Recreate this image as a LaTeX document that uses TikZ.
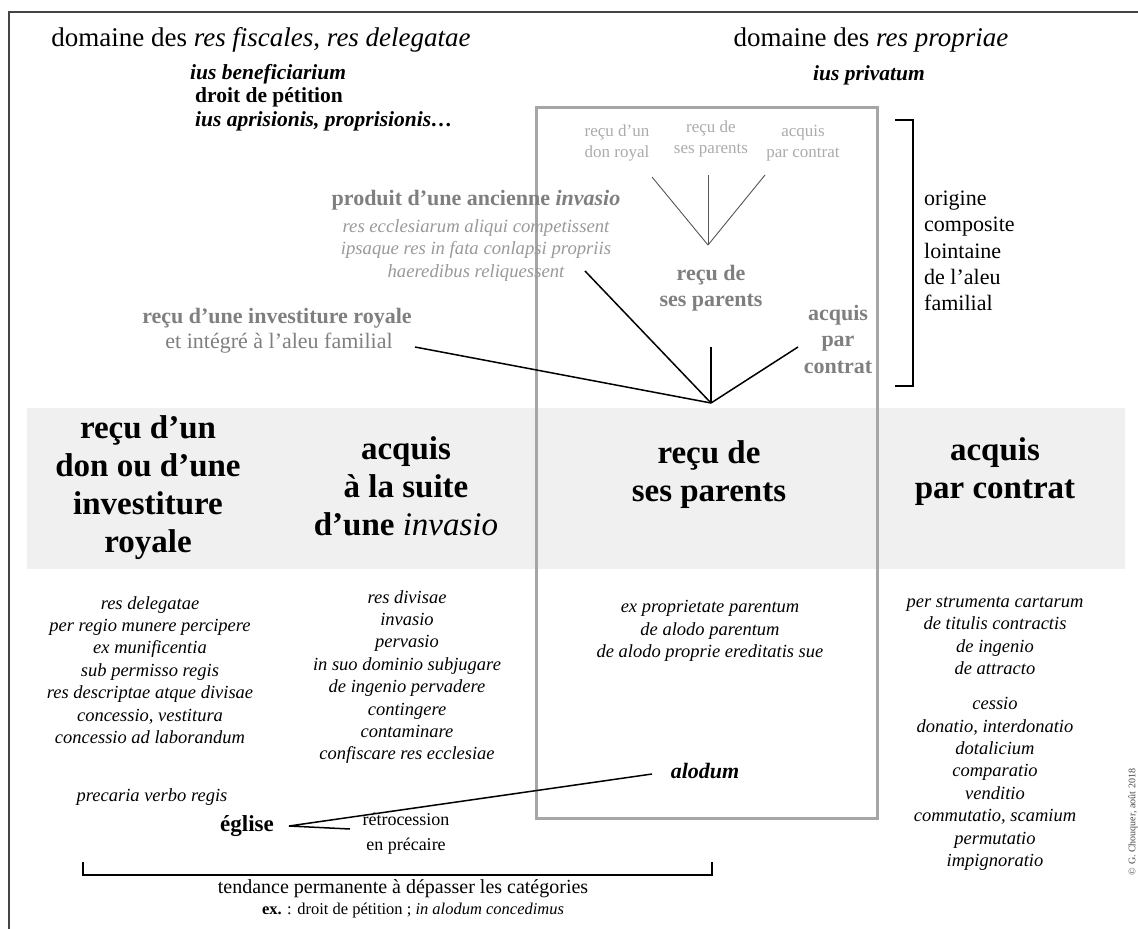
\documentclass[tikz,border=0pt]{standalone}
\usepackage{fontspec}
\setmainfont{Liberation Serif}
\definecolor{framecol}{HTML}{444444}
\definecolor{rectgray}{HTML}{A6A6A6}
\definecolor{bandgray}{HTML}{EFF0EF}
\definecolor{lightlab}{HTML}{ABABAB}
\definecolor{midgray}{HTML}{7F7F7F}
\definecolor{itgray}{HTML}{999999}
\definecolor{thinline}{HTML}{555555}
\begin{document}
\begin{tikzpicture}[x=1pt,y=-1pt,
  lab/.style={inner sep=0pt, align=center},
  title/.style={lab, font=\fontsize{27}{32}\selectfont},
  subbold/.style={lab, font=\fontsize{21.5}{25}\selectfont\bfseries},
  lightlbl/.style={lab, text=lightlab, font=\fontsize{17}{21}\selectfont},
  graybold/.style={lab, text=midgray, font=\fontsize{22}{26.5}\selectfont\bfseries},
  grayit/.style={lab, text=itgray, font=\fontsize{18.7}{22.5}\selectfont\itshape},
  grayreg/.style={lab, text=midgray, font=\fontsize{22}{26}\selectfont},
  side/.style={lab, align=left, font=\fontsize{22}{26.2}\selectfont},
  head/.style={lab, font=\fontsize{33}{38}\selectfont\bfseries},
  listit/.style={lab, font=\fontsize{18.5}{22.4}\selectfont\itshape},
  blk/.style={line width=1.5pt, black},
  thin/.style={line width=0.9pt, thinline},
  brk/.style={line width=1.5pt, black}
]
\useasboundingbox (0,0) rectangle (1138,929);
% band
\fill[bandgray] (27,408) rectangle (1125,569);
% frame
\draw[framecol, line width=2.2pt] (9,929) -- (9,12) -- (1138,12);
% grey rectangle
\draw[rectgray, line width=3pt] (536,107) rectangle (877,818);

% top titles
\node[title] (titleL) at (261,40) {domaine des \textit{res fiscales}, \textit{res delegatae}};
\node[subbold, anchor=west] (iusben) at (190,74) {\itshape ius beneficiarium};
\node[subbold, anchor=west] (droit) at (195,97) {droit de pétition};
\node[subbold, anchor=west] (iusapr) at (195,121) {\itshape ius aprisionis, proprisionis…};
\node[title] (titleR) at (871,40) {domaine des \textit{res propriae}};
\node[subbold] (iuspriv) at (869,75) {\itshape ius privatum};

% light labels
\node[lightlbl] (lg1) at (617,143) {reçu d’un\\don royal};
\node[lightlbl] (lg2) at (711,138.5) {reçu de\\ses parents};
\node[lightlbl] (lg3) at (803,143) {acquis\\par contrat};
\coordinate (T) at (708,245);
\coordinate (t1) at (652,177);
\coordinate (t2) at (708,175);
\coordinate (t3) at (765,175);
\draw[thin] (t1) -- (T);
\draw[thin] (t2) -- (T);
\draw[thin] (t3) -- (T);

% grey bold labels
\node[graybold] (rp) at (711,288) {reçu de\\ses parents};
\node[graybold] (ac) at (838,339) {acquis\\par\\contrat};
\node[graybold] (prod) at (476,200) {produit d’une ancienne \textit{invasio}};
\node[grayit] (resec) at (476,250) {res ecclesiarum aliqui competissent\\ipsaque res in fata conlapsi propriis\\haeredibus reliquessent};
\node[graybold] (inv) at (277,318) {reçu d’une investiture royale};
\node[grayreg] (integ) at (279,343) {et intégré à l’aleu familial};

% converging black lines
\coordinate (A) at (711,403);
\coordinate (a1) at (415,347);
\coordinate (a2) at (585,271);
\coordinate (a3) at (711,347);
\coordinate (a4) at (798,347);
\draw[blk] (a1) -- (A);
\draw[blk] (a2) -- (A);
\draw[blk] (a3) -- (A);
\draw[blk] (a4) -- (A);

% right bracket
\coordinate (b1) at (895,120);
\coordinate (b2) at (913,120);
\coordinate (b3) at (913,386);
\coordinate (b4) at (895,386);
\draw[brk] (b1) -- (b2) -- (b3) -- (b4);
\node[side, anchor=west] (orig) at (924,251) {origine\\composite\\lointaine\\de l’aleu\\familial};

% band headings
\node[head] (h1) at (148,488) {reçu d’un\\don ou d’une\\investiture\\royale};
\node[head] (h2) at (406,486) {acquis\\à la suite\\d’une {\mdseries\itshape invasio}};
\node[head] (h3) at (709,475) {reçu de\\ses parents};
\node[head] (h4) at (995,472) {acquis\\par contrat};

% lists
\node[listit] (l1) at (150,670) {res delegatae\\per regio munere percipere\\ex munificentia\\sub permisso regis\\res descriptae atque divisae\\concessio, vestitura\\concessio ad laborandum};
\node[listit] (l2) at (407,677) {res divisae\\invasio\\pervasio\\in suo dominio subjugare\\de ingenio pervadere\\contingere\\contaminare\\confiscare res ecclesiae};
\node[listit] (l3) at (710,631) {ex proprietate parentum\\de alodo parentum\\de alodo proprie ereditatis sue};
\node[listit] (l4a) at (995,636) {per strumenta cartarum\\de titulis contractis\\de ingenio\\de attracto};
\node[listit] (l4b) at (995,784) {cessio\\donatio, interdonatio\\dotalicium\\comparatio\\venditio\\commutatio, scamium\\permutatio\\impignoratio};

% alodum / eglise
\node[lab, font=\fontsize{22}{26}\selectfont\bfseries\itshape] (alodum) at (705,771) {alodum};
\node[listit] (prec) at (152,797) {precaria verbo regis};
\node[lab, font=\fontsize{23}{27}\selectfont\bfseries] (eglise) at (247,826) {église};
\node[lab, font=\fontsize{18}{25}\selectfont] (retro) at (406,834) {rétrocession\\en précaire};
\coordinate (E) at (289,826);
\coordinate (e1) at (652,774);
\coordinate (e2) at (350,829);
\draw[blk] (e1) -- (E) -- (e2);

% bottom bracket
\coordinate (c1) at (83,862);
\coordinate (c2) at (83,875);
\coordinate (c3) at (712,875);
\coordinate (c4) at (712,862);
\draw[brk] (c1) -- (c2) -- (c3) -- (c4);
\node[lab, font=\fontsize{20}{24}\selectfont] (tend) at (403,889) {tendance permanente à dépasser les catégories};
\node[lab, font=\fontsize{16.5}{20}\selectfont] (exnode) at (413,911) {\textbf{ex.} : droit de pétition ; \textit{in alodum concedimus}};

% copyright
\node[lab, rotate=90, text=framecol, font=\fontsize{10}{12}\selectfont] (copy) at (1133,822) {© G. Chouquer, août 2018};
\end{tikzpicture}
\end{document}
